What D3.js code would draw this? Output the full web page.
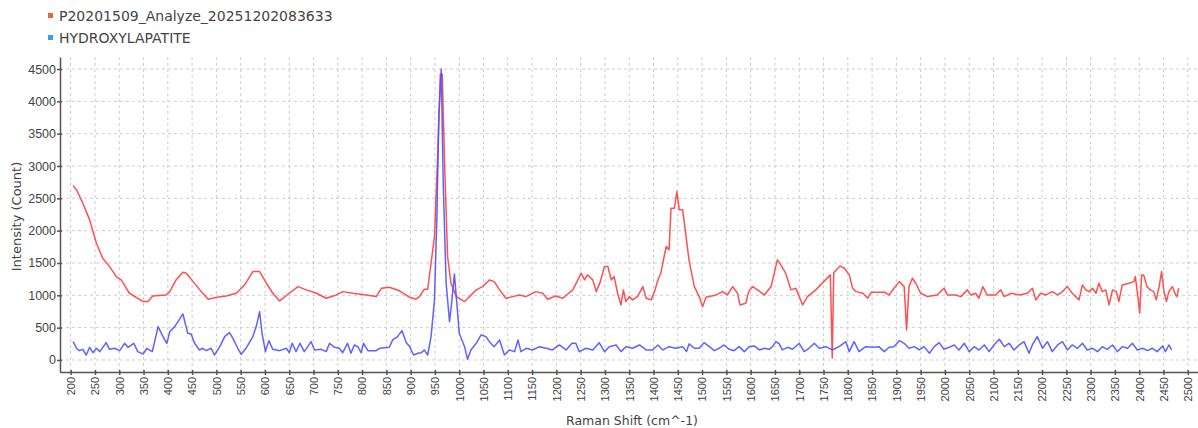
<html>
    <head>
        <script src="https://d3js.org/d3.v7.min.js"></script>
        <style type="text/css">
            body {
                margin: 0;
                background: #fff;
            }

            #chart {
                display: block;
                font-family: "DejaVu Sans", sans-serif;
            }

            .grid line {
                stroke: #cdcdcd;
                stroke-width: 1;
                stroke-dasharray: 3, 3;
            }

            .axis path,
            .axis line {
                stroke: #555;
                stroke-width: 1.5;
            }

            .axis text {
                fill: #444;
            }
        </style>
    </head>

    <body>
        <svg id="chart" width="1198" height="428"></svg>

        <script type="text/javascript">
        // sample spectrum (red)
        const redShift = [205, 212, 225, 239, 253, 266, 280, 294, 304, 321, 349, 359, 369, 397, 404, 417, 431, 438, 452, 466,
            483, 501, 520, 541, 558, 575, 589, 603, 616, 630, 650, 668, 685, 706, 726, 747, 760, 781, 808, 829,
            840, 856, 877, 898, 911, 918, 928, 935, 942, 949, 956, 961, 965, 970, 976, 983, 994, 1011, 1035, 1048,
            1062, 1072, 1083, 1096, 1110, 1124, 1137, 1158, 1172, 1182, 1199, 1213, 1234, 1251, 1258, 1264, 1275, 1282, 1290, 1299,
            1306, 1313, 1319, 1326, 1333, 1338, 1343, 1350, 1357, 1367, 1378, 1385, 1395, 1402, 1409, 1415, 1426, 1432, 1436, 1443,
            1448, 1453, 1460, 1467, 1473, 1484, 1494, 1501, 1508, 1529, 1542, 1552, 1563, 1573, 1578, 1590, 1596, 1604, 1614, 1628,
            1642, 1655, 1662, 1672, 1683, 1693, 1700, 1707, 1717, 1734, 1764, 1768, 1771, 1777, 1784, 1793, 1803, 1810, 1817, 1831,
            1841, 1848, 1875, 1885, 1895, 1906, 1916, 1921, 1926, 1933, 1940, 1950, 1964, 1984, 1998, 2005, 2022, 2033, 2046, 2053,
            2063, 2070, 2078, 2087, 2104, 2115, 2122, 2136, 2153, 2170, 2180, 2187, 2197, 2208, 2221, 2232, 2242, 2252, 2262, 2276,
            2283, 2290, 2297, 2304, 2311, 2317, 2324, 2331, 2338, 2345, 2353, 2358, 2365, 2379, 2389, 2392, 2398, 2401, 2405, 2409,
            2416, 2423, 2430, 2435, 2441, 2446, 2451, 2456, 2461, 2468, 2475, 2478, 2481];
        const redCounts = [2694, 2632, 2425, 2167, 1806, 1574, 1444, 1290, 1238, 1032, 903, 903, 990, 1006, 1057, 1238, 1357, 1342, 1212, 1084,
            940, 970, 990, 1032, 1161, 1367, 1367, 1187, 1032, 913, 1032, 1135, 1084, 1032, 955, 1006, 1057, 1032, 1006, 980,
            1110, 1125, 1070, 970, 940, 980, 1094, 1094, 1497, 1909, 3251, 4420, 4420, 2992, 1600, 1187, 980, 903, 1084, 1135,
            1238, 1212, 1084, 955, 980, 1006, 980, 1057, 1032, 940, 990, 955, 1084, 1342, 1238, 1316, 1238, 1057, 1200, 1445,
            1445, 1238, 1290, 1032, 851, 1084, 903, 980, 929, 980, 1135, 955, 929, 1057, 1238, 1342, 1754, 1703, 2348, 2348,
            2605, 2322, 2322, 1909, 1548, 1135, 980, 825, 970, 1006, 1057, 1006, 1135, 1032, 851, 877, 1057, 1135, 1084, 1006,
            1135, 1548, 1471, 1342, 1084, 1110, 980, 851, 980, 1084, 1316, 30, 1350, 1400, 1455, 1419, 1316, 1110, 1057, 1032,
            955, 1047, 1047, 1006, 1110, 1212, 1135, 464, 1135, 1264, 1187, 1032, 980, 1006, 1110, 1006, 1006, 980, 1084, 1006,
            1032, 955, 1135, 1006, 1006, 1084, 980, 1032, 1006, 1032, 1110, 929, 1032, 1006, 1057, 1006, 1057, 1135, 1032, 929,
            1161, 1084, 1057, 1110, 1032, 1187, 1057, 1084, 851, 1084, 1057, 903, 1161, 1187, 1212, 1290, 929, 722, 1316, 1316,
            1135, 1084, 1057, 929, 1135, 1367, 1057, 903, 1057, 1135, 1006, 980, 1110];

        // reference spectrum (blue)
        const blueShift = [205, 212, 218, 225, 232, 239, 246, 253, 260, 273, 280, 290, 301, 311, 318, 330, 338, 349, 357, 368,
            380, 390, 398, 404, 414, 421, 431, 441, 448, 455, 465, 472, 479, 489, 496, 507, 517, 527, 534, 544,
            551, 561, 575, 582, 589, 594, 601, 608, 616, 630, 644, 650, 656, 664, 672, 681, 695, 702, 716, 726,
            733, 743, 753, 760, 770, 777, 784, 791, 798, 803, 812, 829, 836, 856, 863, 873, 882, 891, 897, 906,
            915, 922, 928, 935, 942, 949, 954, 958, 963, 967, 973, 980, 985, 990, 995, 1000, 1011, 1017, 1024, 1035,
            1045, 1055, 1062, 1072, 1083, 1093, 1103, 1114, 1121, 1127, 1138, 1151, 1165, 1179, 1192, 1206, 1220, 1232, 1240, 1247,
            1261, 1275, 1288, 1299, 1309, 1323, 1333, 1343, 1357, 1371, 1385, 1398, 1409, 1419, 1432, 1446, 1460, 1468, 1473, 1484,
            1494, 1504, 1515, 1525, 1535, 1545, 1556, 1566, 1576, 1587, 1597, 1607, 1618, 1628, 1638, 1645, 1652, 1659, 1665, 1676,
            1686, 1700, 1710, 1720, 1731, 1741, 1755, 1768, 1782, 1796, 1803, 1813, 1823, 1837, 1851, 1864, 1875, 1885, 1895, 1906,
            1916, 1926, 1937, 1947, 1957, 1968, 1978, 1988, 1998, 2009, 2019, 2029, 2040, 2050, 2060, 2070, 2081, 2091, 2101, 2112,
            2122, 2132, 2142, 2153, 2163, 2173, 2180, 2190, 2201, 2211, 2221, 2232, 2242, 2252, 2262, 2273, 2283, 2293, 2304, 2314,
            2324, 2334, 2345, 2355, 2365, 2376, 2386, 2396, 2407, 2417, 2427, 2437, 2448, 2454, 2461, 2467];
        const blueCounts = [283, 181, 144, 165, 77, 196, 113, 181, 129, 268, 165, 181, 144, 258, 196, 258, 129, 93, 181, 129,
            516, 361, 258, 438, 516, 593, 712, 413, 402, 258, 155, 181, 144, 181, 77, 206, 361, 423, 335, 181,
            88, 181, 361, 516, 748, 413, 129, 299, 165, 144, 181, 113, 258, 129, 258, 129, 283, 155, 165, 129,
            258, 196, 181, 113, 258, 103, 232, 206, 113, 258, 144, 144, 181, 196, 310, 361, 454, 268, 217, 77,
            103, 113, 155, 77, 361, 929, 2218, 3766, 4500, 2735, 1187, 593, 929, 1331, 877, 413, 206, 10, 155, 258,
            387, 361, 283, 206, 310, 77, 155, 129, 310, 129, 181, 155, 206, 181, 155, 232, 155, 258, 258, 129,
            181, 155, 268, 129, 206, 232, 129, 206, 181, 232, 155, 155, 232, 155, 206, 181, 206, 129, 248, 181,
            181, 268, 206, 144, 181, 232, 165, 144, 206, 129, 206, 217, 155, 181, 165, 206, 283, 248, 155, 196,
            165, 258, 129, 181, 258, 181, 206, 155, 206, 283, 129, 283, 129, 206, 196, 206, 129, 196, 206, 299,
            258, 181, 206, 155, 206, 103, 206, 268, 165, 196, 232, 155, 258, 129, 206, 155, 232, 129, 232, 320,
            206, 258, 155, 232, 283, 103, 232, 361, 181, 283, 129, 232, 283, 155, 232, 181, 258, 155, 181, 129,
            206, 165, 232, 129, 206, 181, 258, 155, 181, 144, 181, 129, 217, 129, 232, 155];

        const seriesNames = ["P20201509_Analyze_20251202083633", "HYDROXYLAPATITE"];
        const legendColors = ["#e8673a", "#3d9de6"];
        const lineColors = ["#ff5050", "#5050ff"];
        const xTicks = d3.range(200, 2501, 50);
        const yTicks = d3.range(0, 4501, 500);

        const svg = d3.select("#chart");

        const plotLeft = 60, plotRight = 1198, plotTop = 57, plotBottom = 372;

        const x = d3.scaleLinear().domain([178, 2521]).range([plotLeft, plotRight]);
        const y = d3.scaleLinear().domain([-186, 4686]).range([plotBottom, plotTop]);

        // dashed grid
        const grid = svg.append("g").attr("class", "grid");
        grid.selectAll("line.v")
            .data(xTicks)
            .join("line")
            .attr("class", "v")
            .attr("x1", d => x(d)).attr("x2", d => x(d))
            .attr("y1", plotTop).attr("y2", plotBottom);
        grid.selectAll("line.h")
            .data(yTicks)
            .join("line")
            .attr("class", "h")
            .attr("x1", plotLeft).attr("x2", plotRight)
            .attr("y1", d => y(d)).attr("y2", d => y(d));

        // spectra
        const line = d3.line().x(d => x(d[0])).y(d => y(d[1]));
        svg.append("path")
            .datum(d3.zip(redShift, redCounts))
            .attr("fill", "none")
            .attr("stroke", lineColors[0])
            .attr("stroke-width", 1.5)
            .attr("stroke-linejoin", "round")
            .attr("d", line);
        svg.append("path")
            .datum(d3.zip(blueShift, blueCounts))
            .attr("fill", "none")
            .attr("stroke", lineColors[1])
            .attr("stroke-opacity", 0.9)
            .attr("stroke-width", 1.5)
            .attr("stroke-linejoin", "round")
            .attr("d", line);

        // axes, ticks cross the axis line
        const xAxis = svg.append("g")
            .attr("class", "axis")
            .attr("transform", `translate(0,${plotBottom})`)
            .call(d3.axisBottom(x).tickValues(xTicks).tickFormat(d3.format("d")).tickSizeOuter(0));
        xAxis.selectAll(".tick line").attr("y1", -2).attr("y2", 3);
        xAxis.selectAll(".tick text")
            .attr("transform", "rotate(-90)")
            .attr("text-anchor", "end")
            .attr("x", -5)
            .attr("y", 0)
            .attr("dy", "0.35em")
            .style("font-size", "11px");

        const yAxis = svg.append("g")
            .attr("class", "axis")
            .attr("transform", `translate(${plotLeft},0)`)
            .call(d3.axisLeft(y).tickValues(yTicks).tickFormat(d3.format("d")).tickSizeOuter(0));
        yAxis.selectAll(".tick line").attr("x1", -3).attr("x2", 2);
        yAxis.selectAll(".tick text")
            .attr("x", -4)
            .style("font-size", "12.5px");

        // axis titles
        svg.append("text")
            .attr("transform", `translate(21,${(plotTop + plotBottom) / 2 + 2}) rotate(-90)`)
            .attr("text-anchor", "middle")
            .attr("fill", "#444")
            .style("font-size", "13px")
            .text("Intensity (Count)");
        svg.append("text")
            .attr("x", 632)
            .attr("y", 425)
            .attr("text-anchor", "middle")
            .attr("fill", "#444")
            .style("font-size", "12.5px")
            .text("Raman Shift (cm^-1)");

        // legend
        const legend = svg.append("g").selectAll("g")
            .data(seriesNames)
            .join("g")
            .attr("transform", (d, i) => `translate(48,${13 + i * 22})`);
        legend.append("rect")
            .attr("width", 5).attr("height", 5)
            .attr("fill", (d, i) => legendColors[i]);
        legend.append("text")
            .attr("x", 11)
            .attr("y", 8)
            .attr("fill", "#444")
            .style("font-size", "14px")
            .text(d => d);
        </script>
    </body>
</html>
